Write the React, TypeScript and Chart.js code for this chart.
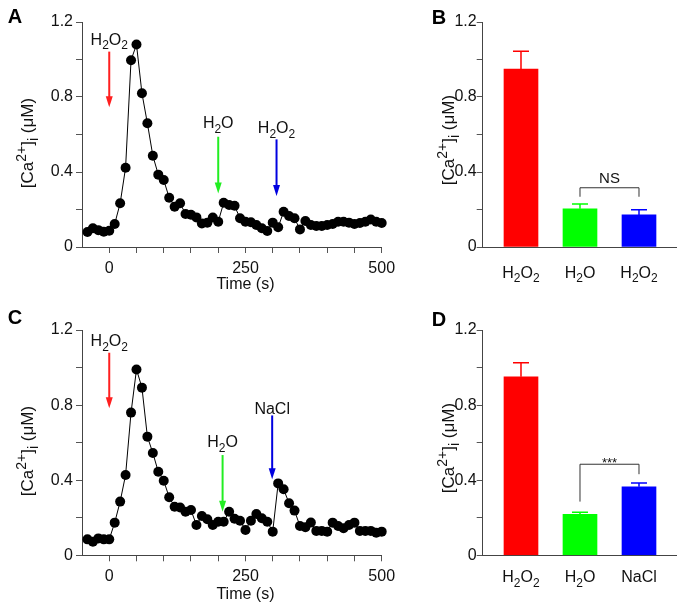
import React, { useEffect, useRef } from 'react';
import { Chart, registerables } from 'chart.js';

Chart.register(...registerables);

const FONT = '"Liberation Sans", Arial, Helvetica, sans-serif';
const TEXT = '#111';
const AXIS = '#444';
const TICK = '#555';

// ---------- Data: time courses ----------
const timeA = [-40, -30, -20, -10, 0, 10, 20, 30, 40, 50, 60, 70, 80, 90, 100, 110, 120, 130, 140, 150, 160, 170, 180, 190, 200, 210, 220, 230, 240, 250, 260, 270, 280, 290, 300, 310, 320, 330, 340, 350, 360, 370, 380, 390, 400, 410, 420, 430, 440, 450, 460, 470, 480, 490, 500];
const calciumA = [0.08, 0.1, 0.09, 0.082, 0.087, 0.123, 0.233, 0.423, 0.996, 1.08, 0.82, 0.66, 0.487, 0.386, 0.357, 0.263, 0.215, 0.233, 0.176, 0.172, 0.158, 0.126, 0.13, 0.157, 0.135, 0.236, 0.224, 0.22, 0.153, 0.135, 0.132, 0.117, 0.1, 0.085, 0.13, 0.105, 0.188, 0.165, 0.153, 0.094, 0.139, 0.117, 0.112, 0.112, 0.117, 0.123, 0.135, 0.135, 0.13, 0.123, 0.128, 0.135, 0.147, 0.135, 0.128];

const timeC = [-40, -30, -20, -10, 0, 10, 20, 30, 40, 50, 60, 70, 80, 90, 100, 110, 120, 130, 140, 150, 160, 170, 180, 190, 200, 210, 220, 230, 240, 250, 260, 270, 280, 290, 300, 310, 320, 330, 340, 350, 360, 370, 380, 390, 400, 410, 420, 430, 440, 450, 460, 470, 480, 490, 500];
const calciumC = [0.085, 0.072, 0.09, 0.085, 0.085, 0.174, 0.286, 0.428, 0.76, 0.99, 0.893, 0.632, 0.545, 0.445, 0.397, 0.309, 0.259, 0.255, 0.232, 0.241, 0.161, 0.209, 0.192, 0.161, 0.179, 0.179, 0.232, 0.195, 0.184, 0.135, 0.184, 0.22, 0.197, 0.179, 0.126, 0.383, 0.352, 0.277, 0.238, 0.156, 0.15, 0.175, 0.13, 0.13, 0.126, 0.174, 0.156, 0.144, 0.161, 0.174, 0.13, 0.13, 0.13, 0.12, 0.126];

// ---------- Data: stimulus arrows ----------
const arrowTimeA = [0, 200, 307];
const arrowTopA = [1.042, 0.588, 0.574];
const arrowTipA = [0.745, 0.286, 0.272];
const arrowLabelA = ['H2O2', 'H2O', 'H2O2'];
const arrowLabelYA = [1.109, 0.664, 0.637];

const arrowTimeC = [0, 208, 299];
const arrowTopC = [1.079, 0.534, 0.745];
const arrowTipC = [0.783, 0.232, 0.405];
const arrowLabelC = ['H2O2', 'H2O', 'NaCl'];
const arrowLabelYC = [1.143, 0.605, 0.785];

const arrowColors = ['#ff1f1f', '#22ee22', '#0000e0'];

// ---------- Data: bar summaries ----------
const barCategoriesB = ['H2O2', 'H2O', 'H2O2'];
const barMeansB = [0.949, 0.204, 0.171];
const barErrorsB = [0.095, 0.025, 0.028];
const bracketB = { from: 2, to: 3, top: 0.316, leftEnd: 0.268, rightEnd: 0.268, label: 'NS', labelY: 0.343 };

const barCategoriesD = ['H2O2', 'H2O', 'NaCl'];
const barMeansD = [0.951, 0.218, 0.365];
const barErrorsD = [0.075, 0.011, 0.02];
const bracketD = { from: 2, to: 3, top: 0.485, leftEnd: 0.286, rightEnd: 0.432, label: '***', labelY: 0.472 };

const barColors = ['#ff0000', '#00ff00', '#0000ff'];

// ---------- Axis ticks ----------
const yTickValues = [0, 0.2, 0.4, 0.6, 0.8, 1.0, 1.2];
const yTickLabels = ['0', '', '0.4', '', '0.8', '', '1.2'];
const xTickValues = [0, 50, 100, 150, 200, 250, 300, 350, 400, 450, 500];
const xTickLabels = [0, 250, 500];
const xTitle = 'Time (s)';
const xTitleAt = 250;

type Part = [string, string];
const chem = (s: string): Part[] =>
  s.split(/(\d+)/).filter((p) => p.length).map((p) => (/^\d+$/.test(p) ? [p, 'sub'] : [p, '']) as Part);
const yTitleParts: Part[] = [['[Ca', ''], ['2+', 'sup'], [']', ''], ['i', 'sub'], [' (\u03bcM)', '']];

function drawRich(ctx: CanvasRenderingContext2D, parts: Part[], x: number, baseline: number, size: number, align = 'center', color = TEXT, scale = 0.72) {
  const fontOf = (m: string) => `${m ? Math.round(size * scale) : size}px ${FONT}`;
  const ws = parts.map(([t, m]) => {
    ctx.font = fontOf(m);
    return ctx.measureText(t).width;
  });
  const total = ws.reduce((a, b) => a + b, 0);
  let cx = align === 'center' ? x - total / 2 : align === 'right' ? x - total : x;
  ctx.fillStyle = color;
  ctx.textAlign = 'left';
  ctx.textBaseline = 'alphabetic';
  parts.forEach(([t, m], i) => {
    ctx.font = fontOf(m);
    const dy = m === 'sub' ? size * 0.28 : m === 'sup' ? -size * 0.42 : 0;
    ctx.fillText(t, cx, baseline + dy);
    cx += ws[i];
  });
}

function drawLetter(ctx: CanvasRenderingContext2D, letter: string, x: number, cy: number) {
  ctx.save();
  ctx.font = `bold 20px ${FONT}`;
  ctx.fillStyle = '#000';
  ctx.textAlign = 'center';
  ctx.textBaseline = 'alphabetic';
  ctx.fillText(letter, x, cy + 20 * 0.36);
  ctx.restore();
}

function drawYTitle(ctx: CanvasRenderingContext2D, x: number, cy: number) {
  ctx.save();
  ctx.translate(x, cy);
  ctx.rotate(-Math.PI / 2);
  drawRich(ctx, yTitleParts, 0, 17 * 0.36, 17, 'center', TEXT, 0.8);
  ctx.restore();
}

function yScale(width: number, pad: number) {
  return {
    type: 'linear',
    min: 0,
    max: 1.2,
    afterBuildTicks: (s: any) => {
      s.ticks = yTickValues.map((v) => ({ value: v }));
    },
    afterFit: (s: any) => {
      s.width = width;
    },
    ticks: {
      autoSkip: false,
      padding: pad,
      color: TEXT,
      font: { family: FONT, size: 16 },
      callback: (_v: any, i: number) => yTickLabels[i],
    },
    grid: { drawOnChartArea: false, drawTicks: true, tickLength: 6, tickColor: TICK },
    border: { color: AXIS, width: 1 },
  };
}

interface LineGeom {
  top: number;
  right: number;
  xHeight: number;
  xTitleOffset: number;
  letter: string;
  letterX: number;
  letterY: number;
  titleX: number;
  titleY: number;
}

function makeLineChart(canvas: HTMLCanvasElement, times: number[], values: number[], aTime: number[], aTop: number[], aTip: number[], aLabel: string[], aLabelY: number[], g: LineGeom) {
  const overlay = {
    id: 'overlay',
    afterDatasetsDraw(chart: any) {
      const ctx = chart.ctx as CanvasRenderingContext2D;
      const xs = chart.scales.x;
      const ys = chart.scales.y;
      ctx.save();
      aTime.forEach((t, i) => {
        const x = xs.getPixelForValue(t);
        const y0 = ys.getPixelForValue(aTop[i]);
        const y1 = ys.getPixelForValue(aTip[i]);
        const headH = 11;
        const headW = 7;
        ctx.strokeStyle = arrowColors[i];
        ctx.lineWidth = 2;
        ctx.beginPath();
        ctx.moveTo(x, y0);
        ctx.lineTo(x, y1 - headH + 1);
        ctx.stroke();
        ctx.fillStyle = arrowColors[i];
        ctx.beginPath();
        ctx.moveTo(x - headW / 2, y1 - headH);
        ctx.lineTo(x + headW / 2, y1 - headH);
        ctx.lineTo(x, y1);
        ctx.closePath();
        ctx.fill();
        const ly = ys.getPixelForValue(aLabelY[i]);
        drawRich(ctx, chem(aLabel[i]), x, ly + 16 * 0.36, 16, 'center');
      });
      ctx.font = `16px ${FONT}`;
      ctx.fillStyle = TEXT;
      ctx.textAlign = 'center';
      ctx.textBaseline = 'middle';
      ctx.fillText(xTitle, xs.getPixelForValue(xTitleAt), chart.chartArea.bottom + g.xTitleOffset);
      drawLetter(ctx, g.letter, g.letterX, g.letterY);
      drawYTitle(ctx, g.titleX, g.titleY);
      ctx.restore();
    },
  };
  return new Chart(canvas, {
    type: 'line',
    data: {
      datasets: [
        {
          data: times.map((t, i) => ({ x: t, y: values[i] })),
          borderColor: '#000',
          borderWidth: 1,
          pointRadius: 5,
          pointBackgroundColor: '#000',
          pointBorderWidth: 0,
          tension: 0,
          clip: false,
        } as any,
      ],
    },
    options: {
      animation: false,
      responsive: false,
      layout: { padding: { left: 0, top: g.top, right: g.right, bottom: 0 } },
      plugins: { legend: { display: false }, tooltip: { enabled: false } },
      scales: {
        x: {
          type: 'linear',
          min: -50,
          max: 500,
          afterBuildTicks: (s: any) => {
            s.ticks = xTickValues.map((v) => ({ value: v }));
          },
          afterFit: (s: any) => {
            s.height = g.xHeight;
          },
          ticks: {
            autoSkip: false,
            maxRotation: 0,
            padding: 6,
            color: TEXT,
            font: { family: FONT, size: 16 },
            callback: (v: any) => (xTickLabels.includes(Number(v)) ? String(v) : ''),
          },
          grid: { drawOnChartArea: false, drawTicks: true, tickLength: 6, tickColor: TICK },
          border: { color: AXIS, width: 1 },
        } as any,
        y: yScale(82, 3) as any,
      },
    },
    plugins: [overlay],
  });
}

interface BarGeom {
  top: number;
  right: number;
  xHeight: number;
  labelOffset: number;
  letter: string;
  letterX: number;
  letterY: number;
  titleX: number;
  titleY: number;
}

function makeBarChart(canvas: HTMLCanvasElement, cats: string[], means: number[], errs: number[], br: any, g: BarGeom) {
  const overlay = {
    id: 'overlayBar',
    afterDatasetsDraw(chart: any) {
      const ctx = chart.ctx as CanvasRenderingContext2D;
      const xs = chart.scales.x;
      const ys = chart.scales.y;
      ctx.save();
      means.forEach((m, i) => {
        const x = xs.getPixelForValue(i + 1);
        const y0 = ys.getPixelForValue(m);
        const y1 = ys.getPixelForValue(m + errs[i]);
        ctx.strokeStyle = barColors[i];
        ctx.lineWidth = 1.5;
        ctx.beginPath();
        ctx.moveTo(x, y0);
        ctx.lineTo(x, y1);
        ctx.moveTo(x - 8, y1);
        ctx.lineTo(x + 8, y1);
        ctx.stroke();
        drawRich(ctx, chem(cats[i]), x, chart.chartArea.bottom + g.labelOffset + 16 * 0.36, 16, 'center');
      });
      const bx0 = xs.getPixelForValue(br.from);
      const bx1 = xs.getPixelForValue(br.to);
      const by = ys.getPixelForValue(br.top);
      ctx.strokeStyle = '#333';
      ctx.lineWidth = 1;
      ctx.beginPath();
      ctx.moveTo(bx0, ys.getPixelForValue(br.leftEnd));
      ctx.lineTo(bx0, by);
      ctx.lineTo(bx1, by);
      ctx.lineTo(bx1, ys.getPixelForValue(br.rightEnd));
      ctx.stroke();
      ctx.fillStyle = TEXT;
      ctx.textAlign = 'center';
      ctx.textBaseline = 'alphabetic';
      ctx.font = br.label === 'NS' ? `15px ${FONT}` : `13px ${FONT}`;
      ctx.fillText(br.label, (bx0 + bx1) / 2, ys.getPixelForValue(br.labelY));
      drawLetter(ctx, g.letter, g.letterX, g.letterY);
      drawYTitle(ctx, g.titleX, g.titleY);
      ctx.restore();
    },
  };
  return new Chart(canvas, {
    type: 'bar',
    data: {
      datasets: [
        {
          data: means.map((m, i) => ({ x: i + 1, y: m })),
          backgroundColor: barColors,
          barThickness: 34,
          borderWidth: 0,
        } as any,
      ],
    },
    options: {
      animation: false,
      responsive: false,
      layout: { padding: { left: 0, top: g.top, right: g.right, bottom: 0 } },
      plugins: { legend: { display: false }, tooltip: { enabled: false } },
      scales: {
        x: {
          type: 'linear',
          min: 0.351,
          max: 3.639,
          offset: false,
          afterFit: (s: any) => {
            s.height = g.xHeight;
          },
          ticks: { display: false },
          grid: { display: true, offset: false, drawOnChartArea: false, drawTicks: false },
          border: { color: AXIS, width: 1 },
        } as any,
        y: yScale(62.7, 0) as any,
      },
    },
    plugins: [overlay],
  });
}

export default function App() {
  const refA = useRef<HTMLCanvasElement>(null);
  const refB = useRef<HTMLCanvasElement>(null);
  const refC = useRef<HTMLCanvasElement>(null);
  const refD = useRef<HTMLCanvasElement>(null);

  useEffect(() => {
    const charts = [
      makeLineChart(refA.current!, timeA, calciumA, arrowTimeA, arrowTopA, arrowTipA, arrowLabelA, arrowLabelYA, {
        top: 22, right: 38.3, xHeight: 53, xTitleOffset: 38, letter: 'A', letterX: 15, letterY: 16, titleX: 27, titleY: 143,
      }),
      makeBarChart(refB.current!, barCategoriesB, barMeansB, barErrorsB, bracketB, {
        top: 22, right: 6.3, xHeight: 53, labelOffset: 25, letter: 'B', letterX: 19, letterY: 17, titleX: 28, titleY: 140,
      }),
      makeLineChart(refC.current!, timeC, calciumC, arrowTimeC, arrowTopC, arrowTipC, arrowLabelC, arrowLabelYC, {
        top: 30, right: 38.3, xHeight: 54.7, xTitleOffset: 39.5, letter: 'C', letterX: 15, letterY: 16.7, titleX: 27, titleY: 151,
      }),
      makeBarChart(refD.current!, barCategoriesD, barMeansD, barErrorsD, bracketD, {
        top: 30, right: 6.3, xHeight: 54.7, labelOffset: 21.4, letter: 'D', letterX: 19, letterY: 19, titleX: 28, titleY: 148,
      }),
    ];
    return () => charts.forEach((c) => c.destroy());
  }, []);

  return (
    <div style={{ position: 'absolute', left: 0, top: 0, width: 683, height: 610, background: '#fff' }}>
      <canvas ref={refA} width={420} height={300} style={{ position: 'absolute', left: 0, top: 0 }} />
      <canvas ref={refB} width={263} height={300} style={{ position: 'absolute', left: 420, top: 0 }} />
      <canvas ref={refC} width={420} height={310} style={{ position: 'absolute', left: 0, top: 300 }} />
      <canvas ref={refD} width={263} height={310} style={{ position: 'absolute', left: 420, top: 300 }} />
    </div>
  );
}
